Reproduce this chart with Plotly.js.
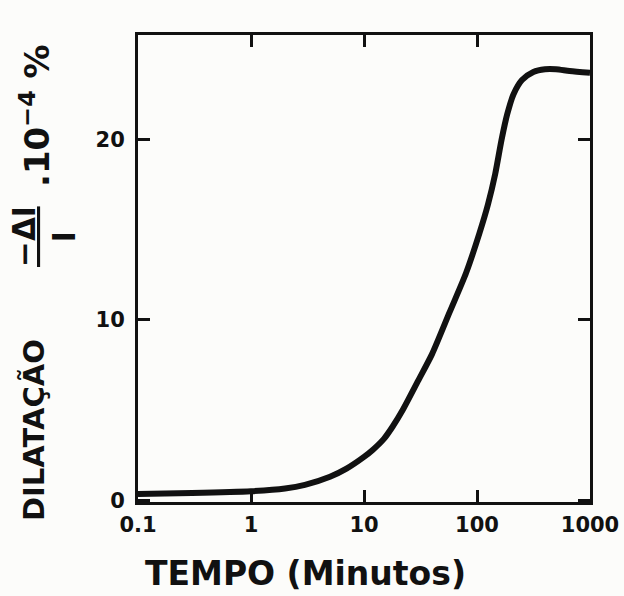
<!DOCTYPE html>
<html>
<head>
<meta charset="utf-8">
<script src="https://cdn.plot.ly/plotly-3.0.1.min.js"></script>
<style>
  html, body { margin: 0; padding: 0; background: #fcfcfa; }
  #chart { width: 624px; height: 596px; }
</style>
</head>
<body>
<div id="chart"></div>
<script>
// Dilatation vs. time (log scale), in units of 10^-4 %
const tempoMin = [0.1, 0.3, 1, 2, 3, 5, 7, 10, 12, 15, 18, 22, 30, 40, 57, 80, 105, 125, 145, 165, 185, 210, 250, 315, 400, 500, 660, 1000];
const dilatacao = [0.35, 0.4, 0.5, 0.65, 0.85, 1.3, 1.75, 2.4, 2.8, 3.4, 4.1, 5.0, 6.6, 8.1, 10.4, 12.6, 14.8, 16.4, 18.1, 20.0, 21.4, 22.5, 23.3, 23.75, 23.9, 23.9, 23.8, 23.7];

const xTickVals = [0.1, 1, 10, 100, 1000];
const xTickText = ['0.1', '1', '10', '100', '1000'];
const yTickVals = [0, 10, 20];
const yTickText = ['0', '10', '20'];

const ink = '#111111';
const face = 'DejaVu Sans, Liberation Sans, Arial, sans-serif';

const trace = {
  x: tempoMin,
  y: dilatacao,
  type: 'scatter',
  mode: 'lines',
  line: { color: ink, width: 6, shape: 'spline', smoothing: 0.7 },
  hoverinfo: 'skip'
};

const axisCommon = {
  showgrid: false,
  zeroline: false,
  showline: true,
  linecolor: ink,
  linewidth: 3,
  mirror: 'ticks',
  ticks: 'inside',
  ticklen: 12,
  tickwidth: 3,
  tickcolor: ink,
  tickfont: { family: face, size: 21, color: ink, weight: 'bold' }
};

const layout = {
  width: 624,
  height: 596,
  margin: { l: 138, r: 34, t: 35, b: 94 },
  paper_bgcolor: '#fcfcfa',
  plot_bgcolor: '#fcfcfa',
  showlegend: false,
  xaxis: Object.assign({}, axisCommon, {
    type: 'log',
    range: [-1, 3],
    tickmode: 'array',
    tickvals: xTickVals,
    ticktext: xTickText,
    ticklabelstandoff: 2
  }),
  yaxis: Object.assign({}, axisCommon, {
    range: [-0.1, 25.8],
    tickmode: 'array',
    tickvals: yTickVals,
    ticktext: yTickText,
    ticklabelstandoff: 6
  }),
  annotations: [
    {
      text: 'TEMPO (Minutos)',
      xref: 'paper', yref: 'paper',
      x: (305 - 138) / 452, y: -(573 - 502) / 467,
      xanchor: 'center', yanchor: 'middle',
      showarrow: false,
      font: { family: face, size: 33, color: ink, weight: 'bold' }
    },
    {
      text: 'DILATAÇÃO',
      xref: 'paper', yref: 'paper',
      x: -(138 - 34) / 452, y: (502 - 430) / 467,
      xanchor: 'center', yanchor: 'middle',
      textangle: -90,
      showarrow: false,
      font: { family: face, size: 29, color: ink, weight: 'bold' }
    },
    {
      text: '<u>−Δl</u><br>l',
      xref: 'paper', yref: 'paper',
      x: -(138 - 44) / 452, y: (502 - 237) / 467,
      xanchor: 'center', yanchor: 'middle',
      textangle: -90,
      showarrow: false,
      font: { family: face, size: 31, color: ink, weight: 'bold' }
    },
    {
      text: '.10<sup>−4</sup> %',
      xref: 'paper', yref: 'paper',
      x: -(138 - 35) / 452, y: (502 - 116) / 467,
      xanchor: 'center', yanchor: 'middle',
      textangle: -90,
      showarrow: false,
      font: { family: face, size: 34, color: ink, weight: 'bold' }
    }
  ]
};

Plotly.newPlot('chart', [trace], layout, { displayModeBar: false, staticPlot: true });
</script>
</body>
</html>
